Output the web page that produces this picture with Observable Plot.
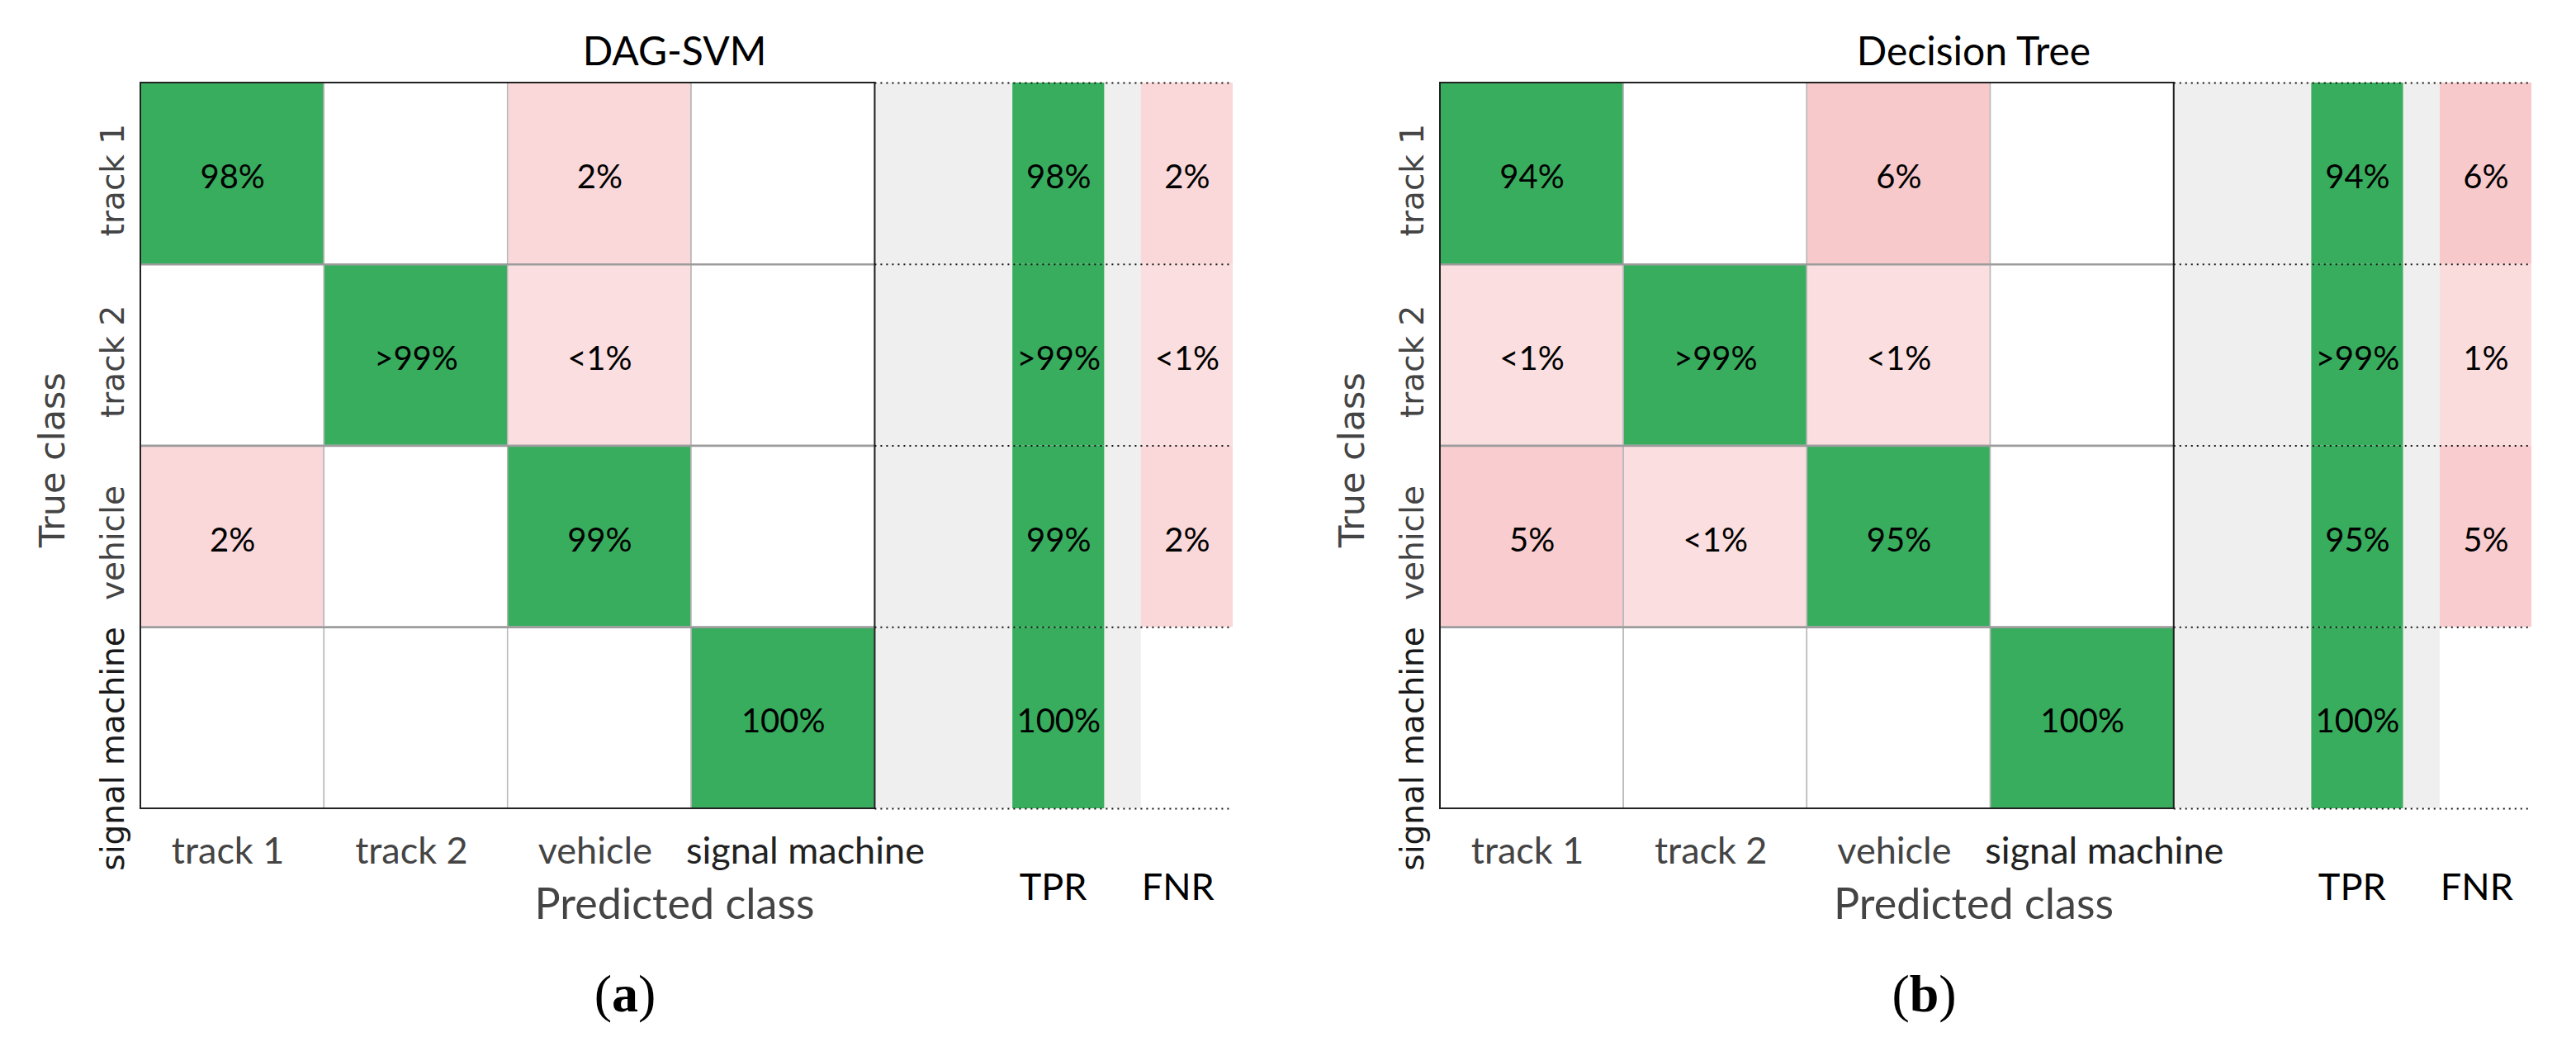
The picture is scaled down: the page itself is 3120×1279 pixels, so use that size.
<!DOCTYPE html>
<html><head><meta charset="utf-8">
<script src="https://cdn.jsdelivr.net/npm/d3@7"></script>
<script src="https://cdn.jsdelivr.net/npm/@observablehq/plot@0.6"></script>
<style>
html,body{margin:0;padding:0;background:#fff;overflow:hidden}
#fig{display:flex;width:3120px;height:1279px}
#fig svg{display:block;flex:none}
</style></head><body><div id="fig"></div>
<script>
// ---------- data ----------
const classes = ["track 1", "track 2", "vehicle", "signal machine"];
const rateLabels = ["TPR", "FNR"];
const xTitle = "Predicted class";
const yTitle = "True class";

const svmTitle = "DAG-SVM";
const svmMatrix = [
  ["98%", "", "2%", ""],
  ["", ">99%", "<1%", ""],
  ["2%", "", "99%", ""],
  ["", "", "", "100%"]
];
const svmTPR = ["98%", ">99%", "99%", "100%"];
const svmFNR = ["2%", "<1%", "2%", ""];

const treeTitle = "Decision Tree";
const treeMatrix = [
  ["94%", "", "6%", ""],
  ["<1%", ">99%", "<1%", ""],
  ["5%", "<1%", "95%", ""],
  ["", "", "", "100%"]
];
const treeTPR = ["94%", ">99%", "95%", "100%"];
const treeFNR = ["6%", "1%", "5%", ""];

// ---------- styling / layout ----------
const GREEN = "#38ad5e", GRAY = "#efefef";
const pink = d3.scaleLinear().domain([0, 6]).range(["#fbe0e1", "#f8c9cb"]);
const pct = s => s === "" ? 0 : s.startsWith("<") ? 0.5 : s.startsWith(">") ? 99.5 : +s.replace("%", "");
const N = classes.length, GAP = 0.75, RW = 0.5, GAP2 = 0.2;
const tprX1 = N + GAP, tprX2 = tprX1 + RW, fnrX1 = tprX2 + GAP2, fnrX2 = fnrX1 + RW;
const FONT = "Lato, 'Open Sans', sans-serif";
const WIDE = "'DejaVu Sans', Verdana, sans-serif";
const last = N - 1;

function panel({title, matrix, tpr, fnr, caption, marginLeft, marginRight}) {
  const cells = matrix.flatMap((row, i) => row.map((label, j) => ({i, j, label, v: pct(label)})));
  const tprData = tpr.map((label, i) => ({i, label, v: pct(label)}));
  const fnrData = fnr.map((label, i) => ({i, label, v: pct(label)})).filter(d => d.label !== "");
  const rows = classes.map((label, i) => ({label, i}));
  const svg = Plot.plot({
    width: 1560, height: 1279,
    marginTop: 100, marginBottom: 300, marginLeft, marginRight,
    style: {fontFamily: FONT, background: "white"},
    x: {domain: [0, fnrX2], axis: null},
    y: {domain: [0, N], reverse: true, axis: null},
    marks: [
      Plot.rect([0], {x1: () => N, x2: () => fnrX1, y1: () => 0, y2: () => N, fill: GRAY}),
      Plot.rect(cells, {
        x1: d => d.j, x2: d => d.j + 1, y1: d => d.i, y2: d => d.i + 1,
        fill: d => d.label === "" ? "white" : d.i === d.j ? GREEN : pink(d.v),
        stroke: "#b8b8b8", strokeWidth: 1.5
      }),
      Plot.ruleY(d3.range(1, N), {x1: () => 0, x2: () => N, stroke: "#9c9c9c", strokeWidth: 2.5}),
      Plot.rect([0], {x1: () => 0, x2: () => N, y1: () => 0, y2: () => N, fill: "none", stroke: "#222", strokeWidth: 2}),
      Plot.rect(tprData, {x1: () => tprX1, x2: () => tprX2, y1: d => d.i, y2: d => d.i + 1, fill: GREEN}),
      Plot.rect(fnrData, {x1: () => fnrX1, x2: () => fnrX2, y1: d => d.i, y2: d => d.i + 1, fill: d => pink(d.v)}),
      Plot.ruleY(d3.range(N + 1), {x1: () => N, x2: () => fnrX2, stroke: "#111", strokeWidth: 2, strokeDasharray: "2,5"}),
      Plot.text(cells.filter(d => d.label !== ""), {x: d => d.j + 0.5, y: d => d.i + 0.5, text: "label", fontSize: 40, dy: 5, fill: "#000"}),
      Plot.text(tprData, {x: () => (tprX1 + tprX2) / 2, y: d => d.i + 0.5, text: "label", fontSize: 40, dy: 5, fill: "#000"}),
      Plot.text(fnrData, {x: () => (fnrX1 + fnrX2) / 2, y: d => d.i + 0.5, text: "label", fontSize: 40, dy: 5, fill: "#000"}),
      // row tick labels (rotated)
      Plot.text(rows, {
        frameAnchor: "left", y: d => d.i + (d.i === last ? 0.67 : 0.535), text: "label",
        rotate: -90, dx: -21, textAnchor: "middle", lineAnchor: "bottom",
        fontSize: 39, fontFamily: WIDE, fill: d => d.i === last ? "#1a1a1a" : "#444"
      }),
      // column tick labels
      Plot.text(rows, {
        frameAnchor: "bottom", x: d => d.i + 0.5 + (d.i === last ? 0.12 : -0.025), text: "label",
        dy: 66, lineAnchor: "bottom", fontSize: 45,
        fill: d => d.i === last ? "#222" : "#444", fontWeight: d => d.i === last ? 600 : 400
      }),
      Plot.text(rateLabels, {
        frameAnchor: "bottom", x: (d, i) => i ? (fnrX1 + fnrX2) / 2 - 0.05 : (tprX1 + tprX2) / 2 - 0.03,
        dy: 110, lineAnchor: "bottom", fontSize: 45, fill: "#000"
      }),
      Plot.text([xTitle], {frameAnchor: "bottom", dx: -15, dy: 133, lineAnchor: "bottom", fontSize: 52, fill: "#444"}),
      Plot.text([yTitle], {frameAnchor: "left", rotate: -90, dx: -93, dy: 17, textAnchor: "middle", lineAnchor: "bottom", fontSize: 43, fontFamily: WIDE, fill: "#444"}),
      Plot.text([title], {frameAnchor: "top", dx: -15, dy: -22, lineAnchor: "bottom", fontSize: 48, fill: "#000"}),
      Plot.text([caption], {frameAnchor: "bottom", dx: -75, dy: 245, lineAnchor: "bottom", fontSize: 64, fill: "#000", fontFamily: "'Liberation Serif', 'DejaVu Serif', serif"})
    ]
  });
  svg.querySelectorAll("text").forEach(t => {
    if (t.textContent === caption) t.innerHTML = `(<tspan font-weight="bold">${caption.slice(1, -1)}</tspan>)`;
  });
  return svg;
}

const fig = document.getElementById("fig");
fig.appendChild(panel({title: svmTitle, matrix: svmMatrix, tpr: svmTPR, fnr: svmFNR, caption: "(a)", marginLeft: 170, marginRight: 67}));
fig.appendChild(panel({title: treeTitle, matrix: treeMatrix, tpr: treeTPR, fnr: treeFNR, caption: "(b)", marginLeft: 184, marginRight: 54}));
</script>
</body></html>
